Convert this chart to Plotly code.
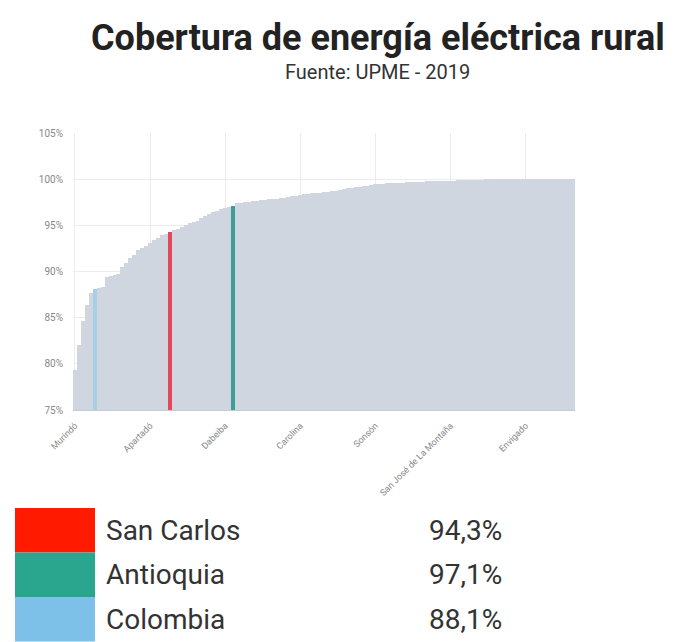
import plotly.graph_objects as go

# ---- data ----
municipios = [
    "Murindó", "Vigía del Fuerte", "Necoclí", "San Juan de Urabá", "Arboletes",
    "Colombia", "Turbo", "Mutatá", "San Pedro de Urabá", "Chigorodó",
    "Nechí", "El Bagre", "Zaragoza", "Cáceres", "Tarazá",
    "Segovia", "Remedios", "Ituango", "Carepa", "Apartadó",
    "Anorí", "Briceño", "Valdivia", "Yondó", "San Carlos",
    "Peque", "Uramita", "Frontino", "Urrao", "Cañasgordas",
    "Caucasia", "Vegachí", "Amalfi", "Argelia", "Nariño",
    "Puerto Berrío", "Sabanalarga", "Buriticá", "Dabeiba", "San Francisco",
    "Antioquia", "San Luis", "Cocorná", "Abriaquí", "Caicedo",
    "Yalí", "Toledo", "San Andrés de Cuerquia", "Campamento", "Angostura",
    "Puerto Nare", "Puerto Triunfo", "Caracolí", "Maceo", "Alejandría",
    "San Rafael", "Granada", "Carolina", "Gómez Plata", "Guadalupe",
    "Yolombó", "Santo Domingo", "Cisneros", "San Roque", "Olaya",
    "Liborina", "Giraldo", "Heliconia", "Ebéjico", "Salgar",
    "Betulia", "Concordia", "Ciudad Bolívar", "Betania", "Andes",
    "Jardín", "Sonsón", "Abejorral", "Montebello", "Caramanta",
    "Valparaíso", "Támesis", "Jericó", "Tarso", "Pueblorrico",
    "Hispania", "Venecia", "Fredonia", "Titiribí", "Amagá",
    "Angelópolis", "Armenia", "Santa Bárbara", "La Pintada", "Santa Fe de Antioquia",
    "San José de La Montaña", "Sopetrán", "San Jerónimo", "Anzá", "Belmira",
    "Entrerríos", "Yarumal", "Santa Rosa de Osos", "San Pedro de los Milagros", "Donmatías",
    "Concepción", "San Vicente Ferrer", "El Peñol", "Guatapé", "Marinilla",
    "El Santuario", "El Carmen de Viboral", "La Unión", "La Ceja", "Envigado",
    "El Retiro", "Guarne", "Rionegro", "Barbosa", "Girardota",
    "Copacabana", "Bello", "Medellín", "Itagüí", "La Estrella",
    "Sabaneta", "Caldas",
]

cobertura = [
    79.3, 82.0, 84.6, 86.4, 87.7, 88.1, 88.2, 88.3, 89.4, 89.5,
    89.6, 89.7, 90.5, 90.9, 91.5, 91.8, 92.3, 92.5, 92.8, 93.1,
    93.4, 93.6, 93.9, 94.1, 94.3, 94.5, 94.6, 94.8, 95.0, 95.2,
    95.4, 95.5, 95.8, 96.0, 96.2, 96.4, 96.6, 96.8, 96.9, 97.0,
    97.1, 97.4, 97.45, 97.5, 97.55, 97.6, 97.65, 97.7, 97.75, 97.8,
    97.85, 97.9, 97.95, 98.0, 98.1, 98.15, 98.2, 98.3, 98.35, 98.4,
    98.45, 98.5, 98.55, 98.6, 98.65, 98.7, 98.75, 98.8, 98.9, 99.0,
    99.05, 99.1, 99.2, 99.25, 99.3, 99.4, 99.45, 99.5, 99.5, 99.55,
    99.55, 99.6, 99.6, 99.6, 99.65, 99.65, 99.7, 99.7, 99.7, 99.75,
    99.75, 99.8, 99.8, 99.8, 99.85, 99.85, 99.85, 99.9, 99.9, 99.9,
    99.95, 99.95, 99.95, 99.95, 100, 100, 100, 100, 100, 100,
    100, 100, 100, 100, 100, 100, 100, 100, 100, 100,
    100, 100, 100, 100, 100, 100, 100,
]

etiquetas_x = ["Murindó", "Apartadó", "Dabeiba", "Carolina", "Sonsón",
               "San José de La Montaña", "Envigado"]

destacados = ["San Carlos", "Antioquia", "Colombia"]
destacados_valores = ["94,3%", "97,1%", "88,1%"]

y_ticks = [75, 80, 85, 90, 95, 100, 105]
y_ticktext = [f"{v}%" for v in y_ticks]

# ---- styles ----
base_color = "#d0d6df"
bar_colors_map = {"San Carlos": "#e2475a", "Antioquia": "#3a9f92", "Colombia": "#a9cfe8"}
legend_colors = ["#ff1a00", "#2aa58e", "#7dc1e8"]

n = min(len(municipios), len(cobertura))
cats = municipios[:n]
vals = cobertura[:n]
colors = [bar_colors_map.get(c, base_color) for c in cats]

fig = go.Figure()
fig.add_trace(go.Bar(
    x=cats, y=vals,
    marker=dict(color=colors, line=dict(width=0)),
    hovertemplate="%{x}: %{y:.1f}%<extra></extra>",
))

W, H = 673, 642
L, R, T, B = 73, 575, 133, 410

fig.update_layout(
    width=W, height=H,
    margin=dict(l=L, r=W - R, t=T, b=H - B, pad=0),
    paper_bgcolor="white", plot_bgcolor="white",
    bargap=0, showlegend=False,
    font=dict(family="Roboto, sans-serif", color="#666"),
)
fig.update_xaxes(
    type="category", range=[-0.5, n - 0.5],
    tickmode="array", tickvals=etiquetas_x, ticktext=etiquetas_x,
    tickangle=-45, tickfont=dict(size=9, color="#888"),
    ticklabelstandoff=6,
    showgrid=True, gridcolor="#ececec", gridwidth=1,
    showline=True, linecolor="#c8ccd2", linewidth=1,
    ticks="", fixedrange=True,
)
fig.update_yaxes(
    range=[75, 105], tickmode="array", tickvals=y_ticks, ticktext=y_ticktext,
    tickfont=dict(size=10, color="#888"),
    ticklabelstandoff=9,
    showgrid=True, gridcolor="#ececec", gridwidth=1,
    zeroline=False, showline=False, ticks="", fixedrange=True,
)

# pixel -> paper (paper is relative to plot area)
def px(x):
    return (x - L) / (R - L)

def py(y):
    return (B - y) / (B - T)

# Title & subtitle
fig.add_annotation(x=px(378), y=py(38), xref="paper", yref="paper",
                   text="<b>Cobertura de energía eléctrica rural</b>", showarrow=False,
                   font=dict(family="Roboto, sans-serif", size=36, color="#222"),
                   xanchor="center", yanchor="middle")
fig.add_annotation(x=px(377), y=py(72), xref="paper", yref="paper",
                   text="Fuente: UPME - 2019", showarrow=False,
                   font=dict(family="Roboto, sans-serif", size=20, color="#333"),
                   xanchor="center", yanchor="middle")

# Legend table
row_top = 508
row_h = 44.5
for i, (name, val) in enumerate(zip(destacados, destacados_valores)):
    y0 = row_top + i * row_h
    y1 = y0 + row_h
    fig.add_shape(type="rect", xref="paper", yref="paper",
                  x0=px(15), x1=px(95), y0=py(y1), y1=py(y0),
                  fillcolor=legend_colors[i], line=dict(width=0))
    yc = (y0 + y1) / 2
    fig.add_annotation(x=px(104), y=py(yc), xref="paper", yref="paper",
                       text=name, showarrow=False, xanchor="left", yanchor="middle",
                       font=dict(family="Roboto, sans-serif", size=28, color="#333"))
    fig.add_annotation(x=px(427), y=py(yc), xref="paper", yref="paper",
                       text=val, showarrow=False, xanchor="left", yanchor="middle",
                       font=dict(family="Roboto, sans-serif", size=28, color="#333"))

fig.write_html("out.html", config={"displayModeBar": False},
               post_script="document.body.style.margin='0';")
